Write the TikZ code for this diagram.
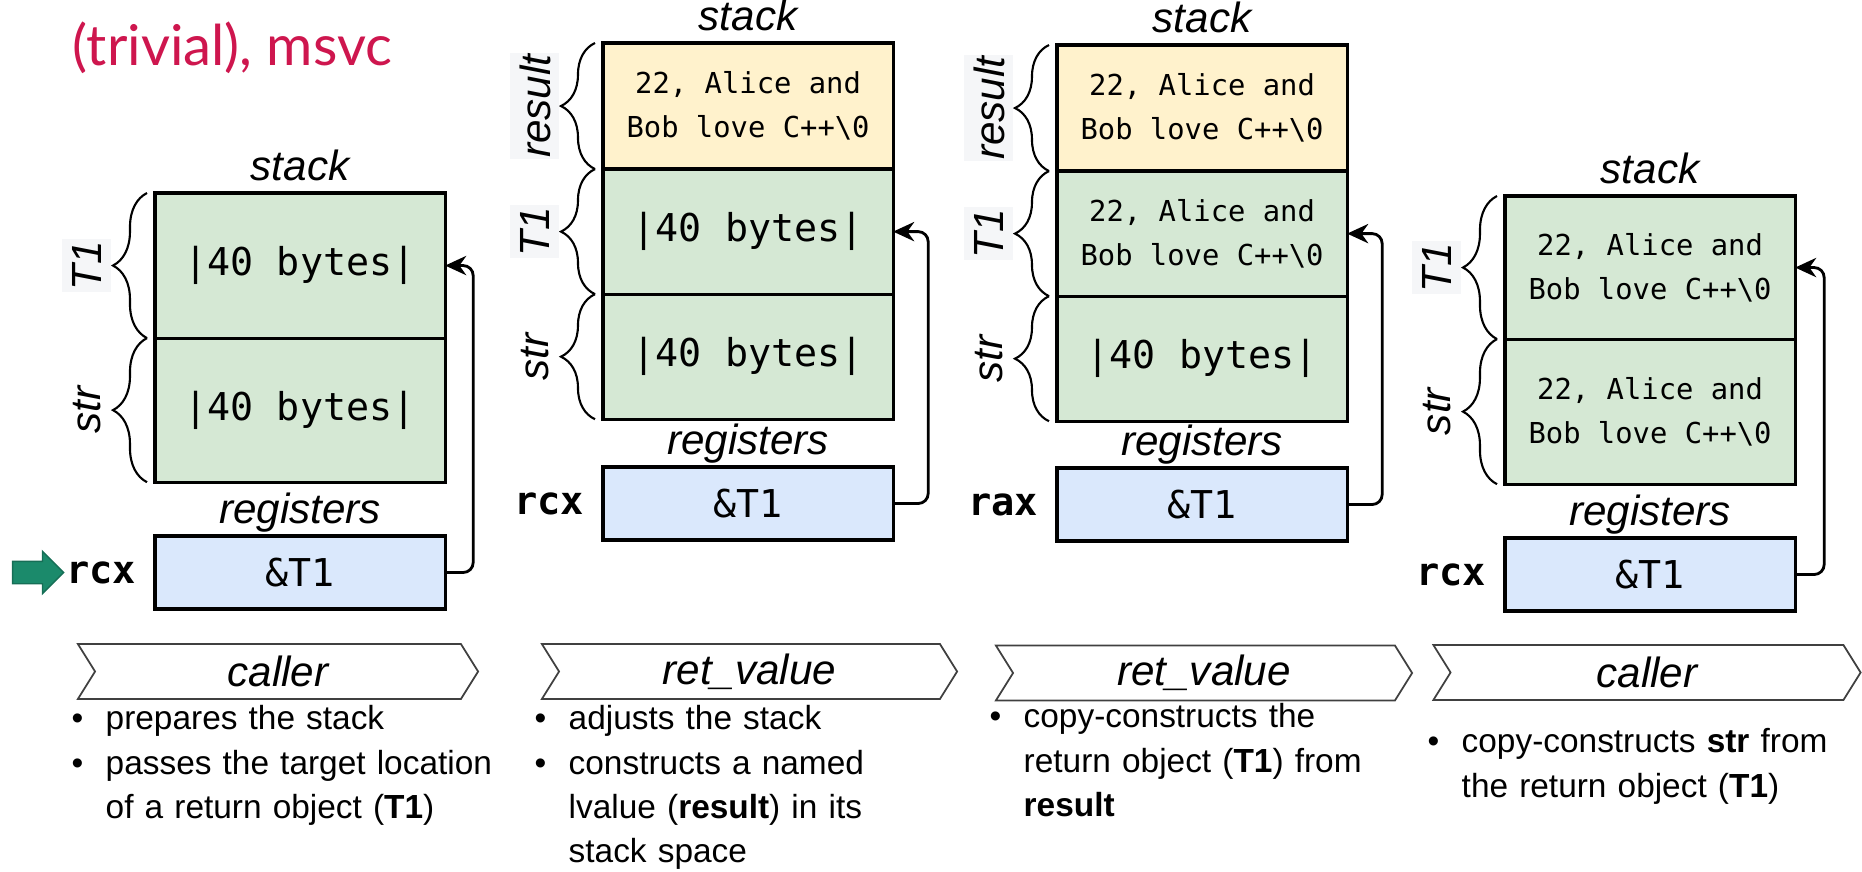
\documentclass[tikz,border=0pt]{standalone}
\usepackage{fontspec}
\setmainfont{Liberation Sans}
\setmonofont{DejaVu Sans Mono}
\newfontfamily\titlefont{Lato}
\usepackage{tikz}
\usetikzlibrary{arrows.meta, positioning, shapes.arrows, shapes.symbols, decorations.pathreplacing, calc}
\definecolor{cellgreen}{HTML}{D5E8D4}
\definecolor{cellyellow}{HTML}{FFF2CC}
\definecolor{regblue}{HTML}{DAE8FC}
\definecolor{labelbg}{HTML}{F5F6F8}
\definecolor{titlered}{RGB}{206,22,78}
\definecolor{curgreen}{RGB}{27,138,107}
\tikzset{
  cell/.style={rectangle, draw=black, line width=0.9pt, fill=#1,
               outer sep=0pt, inner sep=0pt, minimum width=2.9cm, align=center},
  cell/.default=cellgreen,
  big/.style={font=\ttfamily\fontsize{10.9}{13}\selectfont},
  small/.style={font=\ttfamily\fontsize{8.2}{12.5}\selectfont},
  regbox/.style={cell=regblue, minimum height=0.73cm, big},
  regname/.style={font=\ttfamily\bfseries\fontsize{11}{13}\selectfont, inner sep=0pt},
  lbl/.style={font=\itshape\fontsize{12}{14}\selectfont, inner sep=0pt},
  side/.style={lbl, rotate=90, minimum height=0.49cm, inner xsep=0.5pt},
  brc/.style={decorate, decoration={brace, amplitude=0.34cm}, line width=0.6pt},
  conn/.style={-{Stealth[length=6pt, width=5.5pt]}, line width=0.8pt, rounded corners=0.1cm},
  phase/.style={signal, signal from=west, signal to=east, signal pointer angle=116,
                draw=black!75, line width=0.5pt, minimum height=0.55cm, inner sep=0pt,
                font=\itshape\fontsize{12}{14}\selectfont},
  notes/.style={anchor=north west, inner sep=0pt, text width=4.3cm, align=left,
                font=\fontsize{9.5}{12.6}\selectfont},
  curarrow/.style={single arrow, fill=curgreen, draw=curgreen!80!black, line width=0.4pt,
                   minimum height=0.51cm, inner xsep=0pt, inner ysep=0.105cm, outer sep=0pt,
                   single arrow head extend=0.1cm, single arrow head indent=0pt},
  heading/.style={font=\titlefont\fontsize{16}{19}\selectfont, text=titlered, inner sep=0pt},
}
\newcommand{\itm}{\makebox[0.34cm][l]{\textbullet}\strut}
\newcommand{\cont}{\hspace*{0.34cm}}
\newcommand{\cpp}{22, Alice and\\Bob love C++\textbackslash 0}

\begin{document}
\begin{tikzpicture}[x=0.01cm, y=-0.01cm]
  \useasboundingbox (0,0) rectangle (1862,872);
  \node[heading, anchor=base east] (ttl) at (393,65) {(trivial), msvc};

  %% Step 1: caller
  \node[cell, minimum height=1.45cm, anchor=north west, big] (p1t) at (155,193) {|40 bytes|};
  \node[cell, minimum height=1.44cm, anchor=north, big]      (p1s) at (p1t.south) {|40 bytes|};
  \node[lbl, above=0.11cm of p1t] (p1st) {stack};
  \node[regbox, anchor=north west] (p1x) at (155,536) {\&T1};
  \node[lbl, anchor=base] (p1rg) at ($(p1x.north)+(0,-13)$) {registers};
  \node[regname, left=0.18cm of p1x] (p1n) {rcx};
  \node[curarrow, left=0.02cm of p1n] (p1cur) {};
  \foreach \c in {p1t,p1s}
    \draw[brc] ([xshift=-0.08cm]\c.south west) -- ([xshift=-0.08cm]\c.north west);
  \node[side, fill=labelbg] (p1lt) at ([xshift=-0.68cm]p1t.west) {T1};
  \node[side] (p1ls) at ([xshift=-0.68cm]p1s.west) {str};
  \draw[conn] (p1x.east) -- ++(0.28cm,0) |- (p1t.east);

  %% Step 2: ret_value builds result
  \node[cell=cellyellow, minimum height=1.26cm, anchor=north west, small] (p2r) at (603,43) {\cpp};
  \node[cell, minimum height=1.25cm, anchor=north, big] (p2t) at (p2r.south) {|40 bytes|};
  \node[cell, minimum height=1.25cm, anchor=north, big] (p2s) at (p2t.south) {|40 bytes|};
  \node[lbl, above=0.11cm of p2r] (p2st) {stack};
  \node[regbox, anchor=north west] (p2x) at (603,467) {\&T1};
  \node[lbl, anchor=base] (p2rg) at ($(p2x.north)+(0,-13)$) {registers};
  \node[regname, left=0.18cm of p2x] (p2n) {rcx};
  \foreach \c in {p2r,p2t,p2s}
    \draw[brc] ([xshift=-0.08cm]\c.south west) -- ([xshift=-0.08cm]\c.north west);
  \node[side, fill=labelbg] (p2lr) at ([xshift=-0.68cm]p2r.west) {result};
  \node[side, fill=labelbg] (p2lt) at ([xshift=-0.68cm]p2t.west) {T1};
  \node[side] (p2ls) at ([xshift=-0.68cm]p2s.west) {str};
  \draw[conn] (p2x.east) -- ++(0.35cm,0) |- (p2t.east);

  %% Step 3: ret_value copies into T1
  \node[cell=cellyellow, minimum height=1.26cm, anchor=north west, small] (p3r) at (1057,45) {\cpp};
  \node[cell, minimum height=1.25cm, anchor=north, small] (p3t) at (p3r.south) {\cpp};
  \node[cell, minimum height=1.25cm, anchor=north, big]   (p3s) at (p3t.south) {|40 bytes|};
  \node[lbl, above=0.11cm of p3r] (p3st) {stack};
  \node[regbox, anchor=north west] (p3x) at (1057,468) {\&T1};
  \node[lbl, anchor=base] (p3rg) at ($(p3x.north)+(0,-13)$) {registers};
  \node[regname, left=0.18cm of p3x] (p3n) {rax};
  \foreach \c in {p3r,p3t,p3s}
    \draw[brc] ([xshift=-0.08cm]\c.south west) -- ([xshift=-0.08cm]\c.north west);
  \node[side, fill=labelbg] (p3lr) at ([xshift=-0.68cm]p3r.west) {result};
  \node[side, fill=labelbg] (p3lt) at ([xshift=-0.68cm]p3t.west) {T1};
  \node[side] (p3ls) at ([xshift=-0.68cm]p3s.west) {str};
  \draw[conn] (p3x.east) -- ++(0.35cm,0) |- (p3t.east);

  %% Step 4: caller copies into str
  \node[cell, minimum height=1.43cm, anchor=north west, small] (p4t) at (1505,196) {\cpp};
  \node[cell, minimum height=1.45cm, anchor=north, small]      (p4s) at (p4t.south) {\cpp};
  \node[lbl, above=0.11cm of p4t] (p4st) {stack};
  \node[regbox, anchor=north west] (p4x) at (1505,538) {\&T1};
  \node[lbl, anchor=base] (p4rg) at ($(p4x.north)+(0,-13)$) {registers};
  \node[regname, left=0.18cm of p4x] (p4n) {rcx};
  \foreach \c in {p4t,p4s}
    \draw[brc] ([xshift=-0.08cm]\c.south west) -- ([xshift=-0.08cm]\c.north west);
  \node[side, fill=labelbg] (p4lt) at ([xshift=-0.68cm]p4t.west) {T1};
  \node[side] (p4ls) at ([xshift=-0.68cm]p4s.west) {str};
  \draw[conn] (p4x.east) -- ++(0.29cm,0) |- (p4t.east);

  %% Phases and notes
  \node[phase, minimum width=4cm]    (c1) at (278,671.5)  {caller};
  \node[phase, minimum width=4.15cm] (c2) at (749.5,671.5) {ret\_value};
  \node[phase, minimum width=4.16cm] (c3) at (1204,673)   {ret\_value};
  \node[phase, minimum width=4.27cm] (c4) at (1647,672.5) {caller};
  \node[notes] (n1) at (71,698)
    {\itm prepares the stack\\
     \itm passes the target location\\
     \cont of a return object (\textbf{T1})};
  \node[notes] (n2) at (534,698)
    {\itm adjusts the stack\\
     \itm constructs a named\\
     \cont lvalue (\textbf{result}) in its\\
     \cont stack space};
  \node[notes] (n3) at (989,696)
    {\itm copy-constructs the\\
     \cont return object (\textbf{T1}) from\\
     \cont \textbf{result}};
  \node[notes] (n4) at (1427,721)
    {\itm copy-constructs \textbf{str} from\\
     \cont the return object (\textbf{T1})};
\end{tikzpicture}
\end{document}
